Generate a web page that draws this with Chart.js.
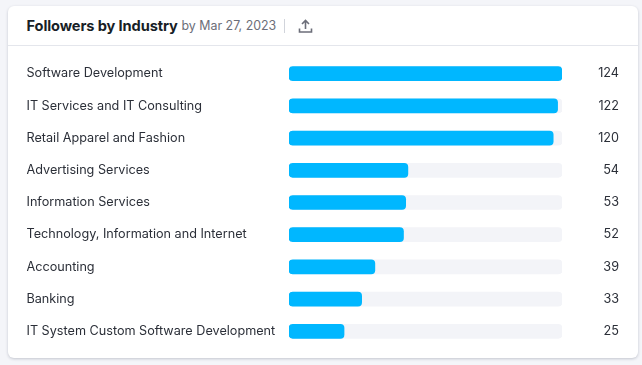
<!DOCTYPE html>
<html><head><meta charset="utf-8">
<script src="https://cdn.jsdelivr.net/npm/chart.js@4"></script>
<style>
html,body{margin:0;padding:0;background:#f4f5f9;width:642px;height:365px;overflow:hidden;font-family:Inter,sans-serif}
#card{position:absolute;left:8px;top:6px;width:630px;height:352px;background:#fff;border-radius:6px;box-shadow:0 1px 3px rgba(25,30,60,.22)}
#head{position:absolute;left:0;top:0;right:0;height:39px;border-bottom:1px solid #e4e6ec}
#t{position:absolute;left:18.500px;top:11px;font-size:14.6px;font-weight:700;color:#181e26;white-space:nowrap;letter-spacing:-.1px}
#d{position:absolute;left:173.500px;top:12px;font-size:12.4px;line-height:16px;color:#6c6e79;white-space:nowrap}
#sep{position:absolute;left:276px;top:13px;width:1px;height:14px;background:#d1d4db}
#ic{position:absolute;left:290px;top:13px}
#w{position:absolute;left:0;top:44px;width:630px;height:305px}
</style></head><body>
<div id="card"><div id="head">
<div id="t">Followers by Industry</div><div id="d">by Mar 27, 2023</div><div id="sep"></div>
<svg id="ic" width="15" height="15" viewBox="0 0 15 15" fill="none" stroke="#6c6e79" stroke-width="1.6"><path d="M7.500 10V2M4 5l3.500-3.500L11 5M1.500 9.500v3.500h12V9.500"/></svg>
</div><div id="w"><canvas id="c" width="630" height="305"></canvas></div></div>
<script>
const categories=["Software Development","IT Services and IT Consulting","Retail Apparel and Fashion","Advertising Services","Information Services","Technology, Information and Internet","Accounting","Banking","IT System Custom Software Development"];
const followers=[124,122,120,54,53,52,39,33,25];
const trackValues=[124,124,124,124,124,124,124,124,124];
new Chart(document.getElementById('c'),{type:'bar',
data:{labels:categories,datasets:[
{data:followers,backgroundColor:'#00b7ff',borderRadius:4,borderSkipped:false,barThickness:14,grouped:false,order:1},
{data:trackValues,backgroundColor:'#f3f4f8',borderRadius:4,borderSkipped:false,barThickness:14,grouped:false,order:2}]},
options:{indexAxis:'y',responsive:false,animation:false,
layout:{padding:{left:18.5,right:76,top:0,bottom:0}},
plugins:{legend:{display:false},tooltip:{enabled:false}},
scales:{
x:{min:0,max:124,display:false},
y:{afterFit(s){s.width=262.5},grid:{display:false},border:{display:false},
 ticks:{crossAlign:'far',padding:0,autoSkip:false,color:'#2b2f38',font:{family:'Inter',size:12.65}}}
}},
plugins:[{id:'valueLabels',afterDraw(ch){const c=ch.ctx,m=ch.getDatasetMeta(0);c.save();c.fillStyle='#2b2f38';c.font='12.65px Inter';c.textAlign='right';c.textBaseline='middle';
 m.data.forEach((b,i)=>c.fillText(String(followers[i]),ch.scales.x.right+57,b.y));c.restore();}}]
});
</script></body></html>
